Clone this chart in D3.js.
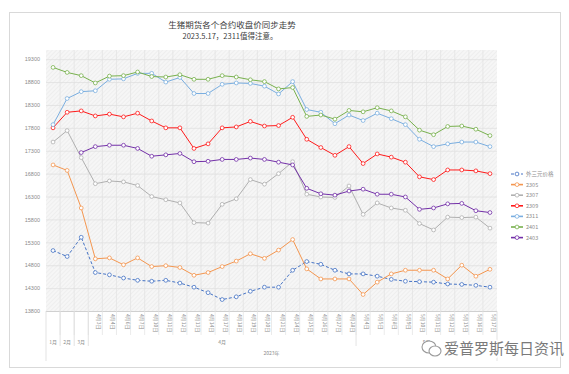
<!DOCTYPE html>
<html>
<head>
<meta charset="utf-8">
<script src="https://cdn.jsdelivr.net/npm/d3@7"></script>
<style>
  body { margin: 0; background: #fff; }
  svg { display: block; font-family: "Noto Sans CJK SC", "Noto Sans", sans-serif; }
</style>
</head>
<body>
<div id="chart"></div>
<script>
// Category labels (first three are monthly points, then daily closes)
const dateLabels = ["", "", "",
  "4月3日", "4月4日", "4月6日", "4月7日", "4月10日", "4月11日", "4月12日", "4月13日", "4月14日",
  "4月17日", "4月18日", "4月19日", "4月20日", "4月21日", "4月24日", "4月25日", "4月26日", "4月27日", "4月28日",
  "5月4日", "5月5日", "5月8日", "5月9日", "5月10日", "5月11日", "5月12日", "5月15日", "5月16日", "5月17日"];
const monthGroups = [["1月", 0, 0], ["2月", 1, 1], ["3月", 2, 2], ["4月", 3, 21], ["5月", 22, 31]];
const yearLabel = "2023年";
const yTicks = [13800, 14300, 14800, 15300, 15800, 16300, 16800, 17300, 17800, 18300, 18800, 19300];

// Series values
const waiSanYuan = [15120, 14990, 15410, 14640, 14590, 14520, 14470, 14450, 14470, 14410, 14320, 14200, 14050, 14110, 14230, 14320,
  14320, 14690, 14880, 14820, 14690, 14610, 14610, 14560, 14490, 14450, 14440, 14430, 14390, 14380, 14360, 14320];
const c2305 = [16990, 16870, 16050, 14940, 14960, 14810, 14960, 14770, 14790, 14750, 14580, 14640, 14770, 14890, 15050, 14950,
  15130, 15360, 14720, 14500, 14500, 14500, 14160, 14430, 14610, 14690, 14690, 14690, 14500, 14800, 14560, 14710];
const c2307 = [17490, 17740, 17150, 16580, 16640, 16620, 16540, 16300, 16230, 16160, 15730, 15720, 16130, 16250, 16670, 16570,
  16800, 17060, 16350, 16290, 16280, 16530, 15910, 16160, 16050, 16000, 15710, 15570, 15850, 15840, 15850, 15610];
const c2309 = [17800, 18140, 18170, 18060, 18100, 18040, 18120, 17950, 17800, 17800, 17350, 17450, 17800, 17820, 17940, 17840,
  17850, 18030, 17550, 17370, 17200, 17390, 17020, 17230, 17160, 17050, 16730, 16670, 16880, 16880, 16860, 16800];
const c2311 = [17870, 18440, 18590, 18610, 18860, 18870, 18990, 18990, 18800, 18900, 18550, 18550, 18750, 18780, 18770, 18710,
  18540, 18810, 18200, 18140, 17890, 18080, 17960, 18120, 18000, 17870, 17550, 17390, 17450, 17490, 17490, 17390];
const c2401 = [19120, 19010, 18940, 18780, 18930, 18940, 19020, 18920, 18910, 18960, 18860, 18860, 18940, 18910, 18850, 18810,
  18650, 18680, 18050, 18080, 17990, 18180, 18150, 18240, 18170, 18040, 17750, 17650, 17830, 17840, 17770, 17630];
const c2403 = [null, null, 17260, 17390, 17420, 17420, 17350, 17180, 17210, 17240, 17060, 17070, 17110, 17110, 17140, 17110,
  17050, 16990, 16480, 16360, 16330, 16420, 16460, 16350, 16350, 16290, 16020, 16050, 16140, 16150, 15990, 15950];

const seriesNames = ["外三元价格", "2305", "2307", "2309", "2311", "2401", "2403"];
const seriesValues = [waiSanYuan, c2305, c2307, c2309, c2311, c2401, c2403];
const seriesColors = ["#4472c4", "#f4964f", "#b0b0b0", "#ff1a1a", "#7aaee0", "#78b14e", "#7330a8"];
const seriesDash = ["3,2", null, null, null, null, null, null];

const W = 569, H = 374;
const plot = { left: 46, right: 497, top: 50, bottom: 311 };

const svg = d3.select("#chart").append("svg")
    .attr("width", W)
    .attr("height", H);

// card frame
svg.append("rect")
    .attr("x", 9.5).attr("y", 12.5)
    .attr("width", 551).attr("height", 355)
    .attr("fill", "#fff")
    .attr("stroke", "#d9d9d9");

// hatched plot background
const defs = svg.append("defs");
const pat = defs.append("pattern")
    .attr("id", "hatch")
    .attr("width", 3).attr("height", 3)
    .attr("patternUnits", "userSpaceOnUse")
    .attr("patternTransform", "rotate(45)");
pat.append("rect").attr("width", 3).attr("height", 3).attr("fill", "#f6f6f6");
pat.append("line").attr("x1", 0).attr("y1", 0).attr("x2", 0).attr("y2", 3)
    .attr("stroke", "#e6e6e6").attr("stroke-width", 1);

const x = d3.scaleBand()
    .domain(d3.range(dateLabels.length))
    .range([plot.left, plot.right]);

const y = d3.scaleLinear()
    .domain([13800, 19500])
    .range([plot.bottom, plot.top]);

const cx = i => x(i) + x.bandwidth() / 2;

svg.append("rect")
    .attr("x", plot.left).attr("y", plot.top)
    .attr("width", plot.right - plot.left).attr("height", plot.bottom - plot.top)
    .attr("fill", "url(#hatch)");

// vertical gridlines at category edges
svg.append("g").selectAll("line")
    .data(d3.range(1, dateLabels.length))
    .join("line")
    .attr("x1", d => x(d)).attr("x2", d => x(d))
    .attr("y1", plot.top).attr("y2", plot.bottom)
    .attr("stroke", "#e3e3e3").attr("stroke-width", 0.8);

// y axis (gridlines + labels)
const yAxis = svg.append("g")
    .attr("transform", `translate(${plot.left},0)`)
    .call(d3.axisLeft(y).tickValues(yTicks).tickSize(-(plot.right - plot.left)).tickPadding(6).tickFormat(d3.format("d")));
yAxis.select(".domain").remove();
yAxis.selectAll(".tick line").attr("stroke", "#e0e0e0").attr("stroke-width", 0.8);
yAxis.selectAll(".tick text").attr("fill", "#8c8c8c").style("font-size", "5.5px");

// category axis
const axisG = svg.append("g");
axisG.append("line")
    .attr("x1", plot.left).attr("x2", plot.right)
    .attr("y1", plot.bottom + 0.5).attr("y2", plot.bottom + 0.5)
    .attr("stroke", "#d0d0d0");

// small separators between categories
axisG.selectAll("line.sep")
    .data(d3.range(1, dateLabels.length))
    .join("line")
    .attr("class", "sep")
    .attr("x1", d => x(d)).attr("x2", d => x(d))
    .attr("y1", plot.bottom).attr("y2", plot.bottom + 24)
    .attr("stroke", "#e2e2e2").attr("stroke-width", 0.7);

// group boundaries
const groupEdges = [];
monthGroups.forEach(g => { groupEdges.push(g[1]); });
groupEdges.push(dateLabels.length);
axisG.selectAll("line.grp")
    .data(groupEdges)
    .join("line")
    .attr("class", "grp")
    .attr("x1", d => d === dateLabels.length ? plot.right : x(d))
    .attr("x2", d => d === dateLabels.length ? plot.right : x(d))
    .attr("y1", plot.bottom)
    .attr("y2", d => (d === 0 || d === dateLabels.length) ? plot.bottom + 50 : plot.bottom + 35)
    .attr("stroke", "#dcdcdc").attr("stroke-width", 0.8);

axisG.selectAll("text.date")
    .data(dateLabels)
    .join("text")
    .attr("class", "date")
    .attr("transform", (d, i) => `translate(${cx(i) + 2},${plot.bottom + 3}) rotate(90)`)
    .attr("fill", "#8c8c8c")
    .style("font-size", "5px")
    .text(d => d);

axisG.selectAll("text.month")
    .data(monthGroups)
    .join("text")
    .attr("class", "month")
    .attr("x", d => (cx(d[1]) + cx(d[2])) / 2)
    .attr("y", plot.bottom + 33)
    .attr("text-anchor", "middle")
    .attr("fill", "#8c8c8c")
    .style("font-size", "5px")
    .text(d => d[0]);

axisG.append("text")
    .attr("x", (plot.left + plot.right) / 2)
    .attr("y", plot.bottom + 44)
    .attr("text-anchor", "middle")
    .attr("fill", "#8c8c8c")
    .style("font-size", "5px")
    .text(yearLabel);

// lines and markers
const line = d3.line()
    .defined(d => d != null)
    .x((d, i) => cx(i))
    .y(d => y(d));

seriesValues.forEach((vals, s) => {
    const g = svg.append("g");
    g.append("path")
        .datum(vals)
        .attr("fill", "none")
        .attr("stroke", seriesColors[s])
        .attr("stroke-width", 1)
        .attr("stroke-dasharray", seriesDash[s])
        .attr("d", line);
    g.selectAll("circle")
        .data(vals.map((v, i) => ({ v, i })).filter(d => d.v != null))
        .join("circle")
        .attr("cx", d => cx(d.i))
        .attr("cy", d => y(d.v))
        .attr("r", 1.9)
        .attr("fill", "#fff")
        .attr("stroke", seriesColors[s])
        .attr("stroke-width", 0.8);
});

// legend
const legend = svg.append("g").attr("transform", "translate(511,174)");
seriesNames.forEach((name, s) => {
    const row = legend.append("g").attr("transform", `translate(0,${s * 10.6})`);
    row.append("line")
        .attr("x1", 0).attr("x2", 12)
        .attr("stroke", seriesColors[s])
        .attr("stroke-width", s === 0 ? 1 : 1.6)
        .attr("stroke-dasharray", seriesDash[s]);
    row.append("circle")
        .attr("cx", 6).attr("r", 1.9)
        .attr("fill", "#fff").attr("stroke", seriesColors[s]).attr("stroke-width", 0.8);
    row.append("text")
        .attr("x", 15).attr("dy", "0.35em")
        .attr("fill", "#8c8c8c")
        .style("font-size", "5.5px")
        .text(name);
});

// title
const title = svg.append("g").attr("text-anchor", "middle").attr("fill", "#404040");
title.append("text").attr("x", 232).attr("y", 28).style("font-size", "8.5px").text("生猪期货各个合约收盘价同步走势");
title.append("text").attr("x", 230).attr("y", 39).style("font-size", "7.5px").text("2023.5.17，2311值得注意。");

// watermark
const wm = svg.append("g").attr("transform", "translate(420,348)");
wm.append("ellipse").attr("cx", 9).attr("cy", -1).attr("rx", 7).attr("ry", 6)
    .attr("fill", "#fff").attr("stroke", "#9a9a9a").attr("stroke-width", 1.1);
wm.append("ellipse").attr("cx", 15).attr("cy", 3).attr("rx", 6).attr("ry", 5)
    .attr("fill", "#fff").attr("stroke", "#9a9a9a").attr("stroke-width", 1.1);
wm.append("text")
    .attr("x", 24).attr("y", 6)
    .attr("fill", "#7a7a7a")
    .attr("stroke", "#fff").attr("stroke-width", 3).attr("paint-order", "stroke")
    .style("font-size", "15px")
    .text("爱普罗斯每日资讯");
</script>
</body>
</html>
